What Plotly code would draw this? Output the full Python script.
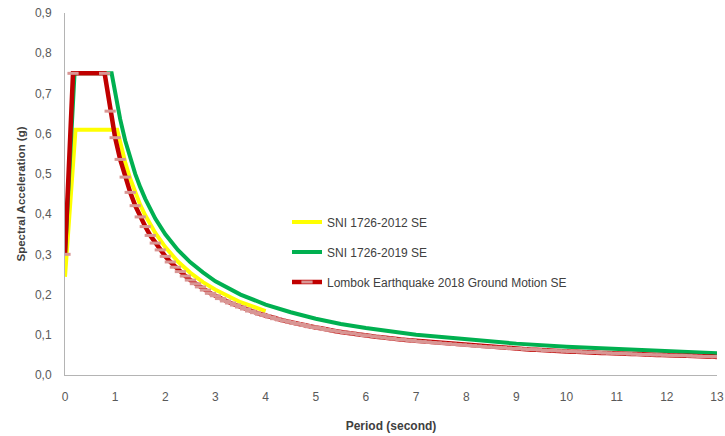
import plotly.graph_objects as go

# Response spectra: period (s) vs spectral acceleration (g)
period_2012 = [0, 0.21, 1.04, 1.1, 1.2, 1.3, 1.4, 1.5, 1.6, 1.8, 2.0, 2.25, 2.5, 2.75, 3.0, 3.5, 4.0]
sa_2012 = [0.244, 0.610, 0.610, 0.577, 0.529, 0.488, 0.454, 0.423, 0.397, 0.353, 0.318,
           0.282, 0.254, 0.231, 0.212, 0.181, 0.159]

period_2019 = [0, 0.19, 0.93, 1.0, 1.1, 1.2, 1.3, 1.4, 1.5, 1.6, 1.8, 2.0, 2.25, 2.5, 2.75,
               3.0, 3.5, 4.0, 4.5, 5, 5.5, 6, 7, 8, 9, 10, 11, 12, 13]
sa_2019 = [0.300, 0.750, 0.750, 0.700, 0.636, 0.583, 0.538, 0.500, 0.467, 0.438, 0.389,
           0.350, 0.311, 0.280, 0.255, 0.233, 0.200, 0.175, 0.156, 0.140, 0.127, 0.117,
           0.100, 0.088, 0.078, 0.070, 0.064, 0.058, 0.054]

period_lombok = [0, 0.16, 0.79,
                 0.9, 1.0, 1.1, 1.2, 1.3, 1.4, 1.5, 1.6, 1.7, 1.8, 1.9, 2.0,
                 2.1, 2.2, 2.3, 2.4, 2.5, 2.6, 2.7, 2.8, 2.9, 3.0,
                 3.1, 3.2, 3.3, 3.4, 3.5, 3.6, 3.7, 3.8, 3.9, 4.0,
                 4.1, 4.2, 4.3, 4.4, 4.5, 4.6, 4.7, 4.8, 4.9, 5.0,
                 5.1, 5.2, 5.3, 5.4, 5.5, 5.6, 5.7, 5.8, 5.9, 6.0,
                 6.1, 6.2, 6.3, 6.4, 6.5, 6.6, 6.7, 6.8, 6.9, 7.0,
                 7.1, 7.2, 7.3, 7.4, 7.5, 7.6, 7.7, 7.8, 7.9, 8.0,
                 8.1, 8.2, 8.3, 8.4, 8.5, 8.6, 8.7, 8.8, 8.9, 9.0,
                 9.1, 9.2, 9.3, 9.4, 9.5, 9.6, 9.7, 9.8, 9.9, 10.0,
                 10.1, 10.2, 10.3, 10.4, 10.5, 10.6, 10.7, 10.8, 10.9, 11.0,
                 11.1, 11.2, 11.3, 11.4, 11.5, 11.6, 11.7, 11.8, 11.9, 12.0,
                 12.1, 12.2, 12.3, 12.4, 12.5, 12.6, 12.7, 12.8, 12.9, 13.0]
sa_lombok = [0.300, 0.750, 0.750,
             0.656, 0.590, 0.536, 0.492, 0.454, 0.421, 0.393, 0.369, 0.347, 0.328, 0.311, 0.295,
             0.281, 0.268, 0.257, 0.246, 0.236, 0.227, 0.219, 0.211, 0.203, 0.197,
             0.190, 0.184, 0.179, 0.174, 0.169, 0.164, 0.159, 0.155, 0.151, 0.148,
             0.144, 0.140, 0.137, 0.134, 0.131, 0.128, 0.126, 0.123, 0.120, 0.118,
             0.116, 0.113, 0.111, 0.109, 0.107, 0.105, 0.104, 0.102, 0.100, 0.098,
             0.097, 0.095, 0.094, 0.092, 0.091, 0.089, 0.088, 0.087, 0.086, 0.084,
             0.083, 0.082, 0.081, 0.080, 0.079, 0.078, 0.077, 0.076, 0.075, 0.074,
             0.073, 0.072, 0.071, 0.070, 0.069, 0.069, 0.068, 0.067, 0.066, 0.066,
             0.065, 0.064, 0.063, 0.063, 0.062, 0.061, 0.061, 0.060, 0.060, 0.059,
             0.058, 0.058, 0.057, 0.057, 0.056, 0.056, 0.055, 0.055, 0.054, 0.054,
             0.053, 0.053, 0.052, 0.052, 0.051, 0.051, 0.050, 0.050, 0.050, 0.049,
             0.049, 0.048, 0.048, 0.048, 0.047, 0.047, 0.046, 0.046, 0.046, 0.045]

x_ticks = list(range(0, 14))
y_ticks = [0.0, 0.1, 0.2, 0.3, 0.4, 0.5, 0.6, 0.7, 0.8, 0.9]
y_ticktext = ["0,0", "0,1", "0,2", "0,3", "0,4", "0,5", "0,6", "0,7", "0,8", "0,9"]

FONT = "Liberation Sans, Arial, sans-serif"

fig = go.Figure()
fig.add_trace(go.Scatter(
    x=period_2012, y=sa_2012, mode="lines", name="SNI 1726-2012 SE",
    line=dict(color="#FFFF00", width=4), legendgroup="a"))
fig.add_trace(go.Scatter(
    x=period_2019, y=sa_2019, mode="lines", name="SNI 1726-2019 SE",
    line=dict(color="#00B050", width=4), legendgroup="b"))
fig.add_trace(go.Scatter(
    x=period_lombok, y=sa_lombok, mode="lines+markers",
    name="Lombok Earthquake 2018 Ground Motion SE",
    line=dict(color="#C00000", width=4.5),
    marker=dict(symbol="line-ew", size=8, color="#D99694",
                line=dict(color="#D99694", width=3)),
    legendgroup="c"))

axis_line = "#B4B4B4"
fig.update_layout(
    width=725, height=436,
    margin=dict(l=65, r=8, t=13, b=61, autoexpand=False),
    paper_bgcolor="white", plot_bgcolor="white",
    font=dict(family=FONT, size=12, color="#595959"),
    showlegend=True,
    legend=dict(x=0.3405, y=0.4624, xanchor="left", yanchor="top",
                bgcolor="rgba(0,0,0,0)", tracegroupgap=11,
                font=dict(family=FONT, size=12, color="#404040")),
    xaxis=dict(range=[0, 13], tickvals=x_ticks, showgrid=False, zeroline=False,
               showline=True, linecolor=axis_line, linewidth=1, ticks="",
               ticklabelstandoff=11, automargin=False,
               title=dict(text="<b>Period (second)</b>", standoff=18,
                          font=dict(family=FONT, size=12, color="#404040"))),
    yaxis=dict(range=[0, 0.9], tickvals=y_ticks, ticktext=y_ticktext, showgrid=False,
               zeroline=False, showline=True, linecolor=axis_line, linewidth=1, ticks="",
               ticklabelstandoff=10, automargin=False,
               title=dict(text="<b>Spectral Acceleration (g)</b>", standoff=6,
                          font=dict(family=FONT, size=11.5, color="#404040"))),
)

fig.write_html("out.html")
